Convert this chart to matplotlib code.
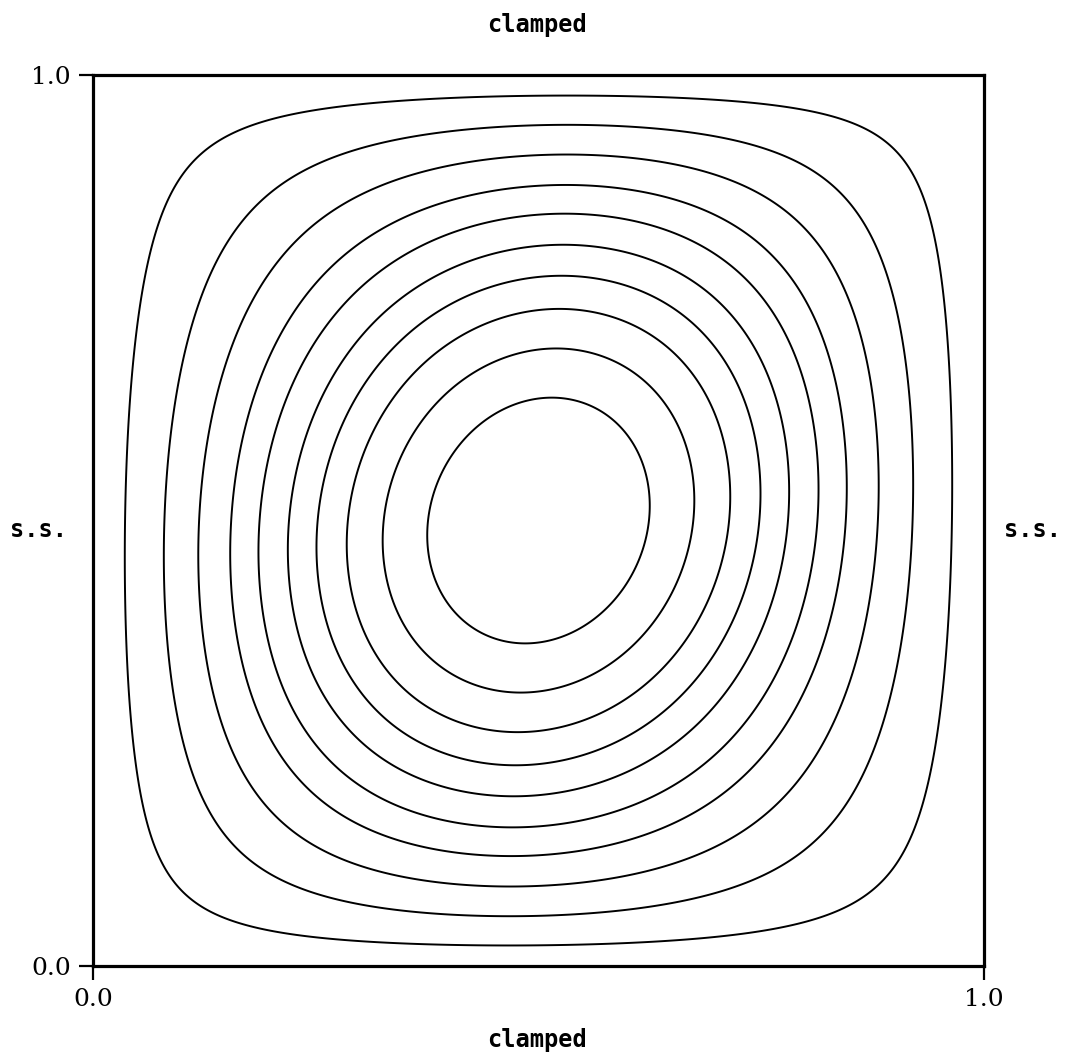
import numpy as np
import matplotlib
matplotlib.use("Agg")
import matplotlib.pyplot as plt

# contour levels of the (normalised) deflection
levels = [0.108, 0.237, 0.347, 0.445, 0.528, 0.610, 0.685, 0.758, 0.835, 0.913]

# edge labels
edge_top = "clamped"
edge_bottom = "clamped"
edge_left = "s.s."
edge_right = "s.s."

tick_vals = [0.0, 1.0]
tick_labels = ["0.0", "1.0"]

# shape parameters of the mode
e_r = 0.6        # rounding of the profile at the plate centre
y_scale = 0.905  # the clamped direction is a bit stiffer
y_edge = 0.095
shear = 0.04     # anisotropic coupling, strongest at the centre
skew = 0.12


def prof(t):
    s = np.sqrt(1 + e_r ** 2)
    return (s - np.sqrt(t ** 2 + e_r ** 2)) / (s - e_r)


def prof_y(t):
    a = np.abs(t)
    return prof(y_scale * a + y_edge * a ** 8)


x = np.linspace(0, 1, 801)
y = np.linspace(0, 1, 801)
X, Y = np.meshgrid(x, y)
U = 2 * X - 1
V = 2 * Y - 1
M = (1 - U ** 2) * (1 - V ** 2)
Us = U - shear * V * M
Vs = V - shear * U * M
W = prof(Us) * prof_y(Vs) * (1 + skew * U * V)

fig = plt.figure(figsize=(10.66, 10.57), dpi=100)
ax = fig.add_axes([0.0872, 0.0861, 0.8359, 0.8429])

ax.contour(X, Y, W, levels=levels, colors="black", linewidths=1.4)

ax.set_xlim(0, 1)
ax.set_ylim(0, 1)
ax.set_xticks(tick_vals)
ax.set_yticks(tick_vals)
ax.set_xticklabels(tick_labels, fontfamily="DejaVu Serif", fontsize=18)
ax.set_yticklabels(tick_labels, fontfamily="DejaVu Serif", fontsize=18)
ax.tick_params(direction="out", length=10, width=1.6, pad=6)
for sp in ax.spines.values():
    sp.set_linewidth(2.3)

lab = dict(fontfamily="DejaVu Sans Mono", fontweight="bold", fontsize=17,
           ha="center", va="center")
fig.text(537 / 1066, 1 - 25 / 1057, edge_top, **lab)
fig.text(537 / 1066, 1 - 1040 / 1057, edge_bottom, **lab)
fig.text(39 / 1066, 1 - 530 / 1057, edge_left, **lab)
fig.text(1033 / 1066, 1 - 530 / 1057, edge_right, **lab)

fig.savefig("out.png", dpi=100)
